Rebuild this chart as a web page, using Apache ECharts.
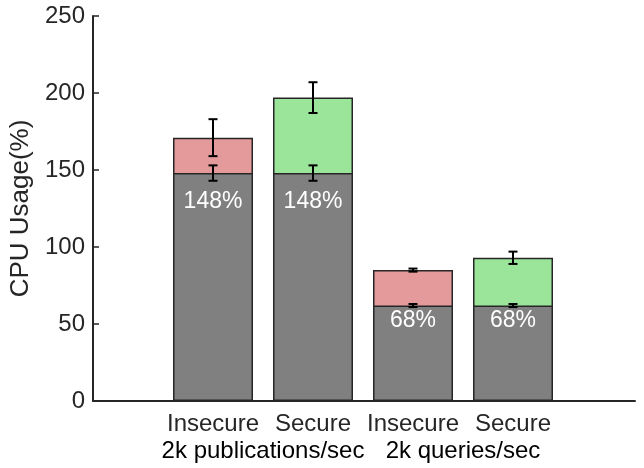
<!DOCTYPE html>
<html>
<head>
<meta charset="utf-8">
<script src="https://cdn.jsdelivr.net/npm/echarts@6/dist/echarts.min.js"></script>
<style>html,body{margin:0;padding:0;background:#fff}#c{width:644px;height:468px}</style>
</head>
<body>
<div id="c"></div>
<script>
// ---- data ----
var categories = ['Insecure', 'Secure', 'Insecure', 'Secure'];
var groups = ['2k publications/sec', '2k queries/sec'];
var baseValues = [148, 148, 62, 62];        // grey part
var baseErrors = [5, 5, 1, 1];
var totalValues = [171, 197, 85, 93];       // top of coloured part
var totalErrors = [12, 10, 1, 4];
var baseLabels = ['148%', '148%', '68%', '68%'];
var yTicks = [0, 50, 100, 150, 200, 250];

// ---- styles ----
var FONT = '"Liberation Sans", Arial, sans-serif';
var DARK = '#262626';
var topColors = ['#e49a9a', '#9be59b', '#e49a9a', '#9be59b'];
var labelDistance = [17, 17, 4, 4];

var pos = categories.map(function (c, i) { return i + 1; });
var groupPos = groups.map(function (g, i) { return 2 * i + 1.5; });

var totalData = totalValues.map(function (v, i) {
  return { value: [pos[i], v], itemStyle: { color: topColors[i] } };
});
var baseData = baseValues.map(function (v, i) {
  return { value: [pos[i], v], label: { distance: labelDistance[i] } };
});
var errData = [];
totalValues.forEach(function (v, i) { errData.push([pos[i], v, totalErrors[i]]); });
baseValues.forEach(function (v, i) { errData.push([pos[i], v, baseErrors[i]]); });

var chart = echarts.init(document.getElementById('c'), null, { renderer: 'canvas' });
chart.setOption({
  animation: false,
  backgroundColor: '#fff',
  textStyle: { fontFamily: FONT },
  grid: { left: 93, right: 9, top: 16, bottom: 67, containLabel: false },
  xAxis: [{
    type: 'value', min: -0.2, max: 5.22,
    splitLine: { show: false },
    axisLine: { show: true, onZero: false, lineStyle: { color: DARK, width: 2 } },
    axisTick: { show: true, inside: true, length: 5, customValues: pos, lineStyle: { color: DARK, width: 1 } },
    axisLabel: {
      customValues: pos, margin: 11, color: DARK, fontSize: 24, fontFamily: FONT,
      formatter: function (v) { return categories[Math.round(v) - 1]; }
    }
  }, {
    type: 'value', min: -0.2, max: 5.22, position: 'bottom',
    splitLine: { show: false },
    axisLine: { show: false, onZero: false }, axisTick: { show: false },
    axisLabel: {
      customValues: groupPos, margin: 38, color: '#000', fontSize: 24, fontFamily: FONT,
      formatter: function (v) { return groups[Math.round((v - 1.5) / 2)]; }
    }
  }],
  yAxis: {
    type: 'value', min: 0, max: 250, interval: 50,
    name: 'CPU Usage(%)', nameLocation: 'middle', nameGap: 55,
    nameTextStyle: { fontSize: 26, color: DARK, fontFamily: FONT },
    splitLine: { show: false },
    axisLine: { show: true, onZero: false, lineStyle: { color: DARK, width: 2 } },
    axisTick: { show: true, inside: true, length: 6, lineStyle: { color: DARK, width: 1.5 } },
    axisLabel: { margin: 8, color: DARK, fontSize: 24, fontFamily: FONT,
      formatter: function (v) { return yTicks.indexOf(v) >= 0 ? String(v) : ''; } }
  },
  series: [{
    type: 'bar', name: 'total', data: totalData, barWidth: 80, barGap: '-100%',
    itemStyle: { borderColor: DARK, borderWidth: 1.5 }, z: 2
  }, {
    type: 'bar', name: 'base', data: baseData, barWidth: 80, barGap: '-100%',
    itemStyle: { color: '#808080', borderColor: DARK, borderWidth: 1.5 }, z: 3,
    label: {
      show: true, position: 'insideTop', color: '#fff', fontSize: 23, fontFamily: FONT,
      formatter: function (p) { return baseLabels[p.dataIndex]; }
    }
  }, {
    type: 'custom', name: 'err', data: errData, z: 10,
    renderItem: function (params, api) {
      var x = api.value(0), y = api.value(1), e = api.value(2);
      var hi = api.coord([x, y + e]);
      var lo = api.coord([x, y - e]);
      var hw = 4.5;
      var st = { stroke: '#000', lineWidth: 2 };
      return { type: 'group', children: [
        { type: 'line', shape: { x1: hi[0], y1: hi[1], x2: lo[0], y2: lo[1] }, style: st },
        { type: 'line', shape: { x1: hi[0] - hw, y1: hi[1], x2: hi[0] + hw, y2: hi[1] }, style: st },
        { type: 'line', shape: { x1: lo[0] - hw, y1: lo[1], x2: lo[0] + hw, y2: lo[1] }, style: st }
      ]};
    }
  }]
});
</script>
</body>
</html>
